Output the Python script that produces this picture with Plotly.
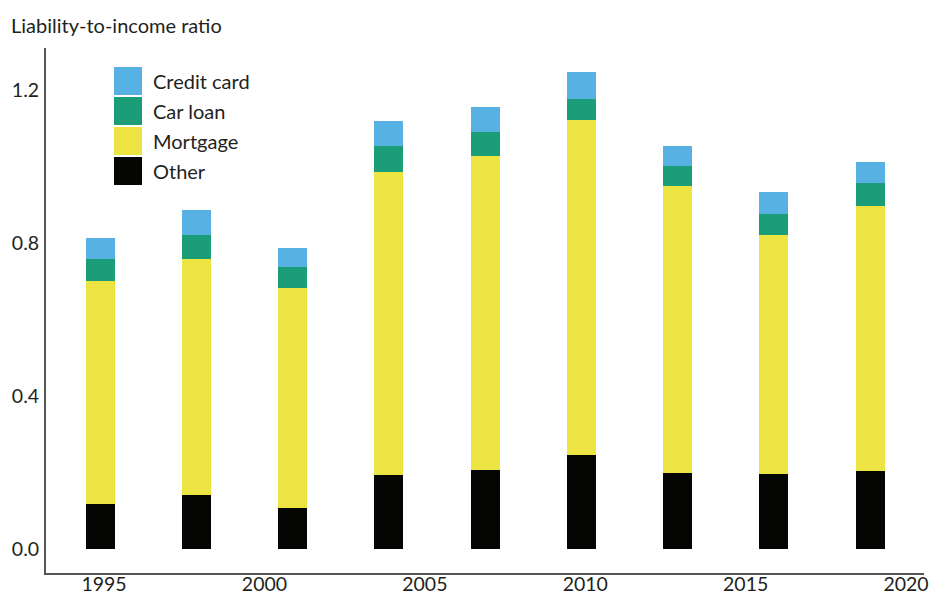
import plotly.graph_objects as go

years = [1995, 1998, 2001, 2004, 2007, 2010, 2013, 2016, 2019]
other = [0.118, 0.141, 0.107, 0.193, 0.207, 0.246, 0.199, 0.196, 0.204]
mortgage = [0.583, 0.617, 0.575, 0.793, 0.820, 0.876, 0.750, 0.625, 0.693]
car_loan = [0.057, 0.063, 0.055, 0.068, 0.063, 0.054, 0.052, 0.055, 0.060]
credit_card = [0.055, 0.065, 0.050, 0.065, 0.066, 0.071, 0.053, 0.057, 0.055]

series_names = ["Credit card", "Car loan", "Mortgage", "Other"]
series_colors = ["#58b1e3", "#1b9e77", "#ece442", "#050503"]

y_ticks = [0.0, 0.4, 0.8, 1.2]
x_ticks = [1995, 2000, 2005, 2010, 2015, 2020]

FONT = "Lato, 'Open Sans', sans-serif"
TXT = "#231f20"

fig = go.Figure()
stack = [("Other", other), ("Mortgage", mortgage), ("Car loan", car_loan), ("Credit card", credit_card)]
for name, vals in stack:
    fig.add_trace(go.Bar(
        x=years, y=vals, name=name,
        marker=dict(color=series_colors[series_names.index(name)], line=dict(width=0)),
        width=0.9, offset=-0.57,
        showlegend=False,
    ))

# Custom legend: large square swatches with labels
for i, (name, col) in enumerate(zip(series_names, series_colors)):
    y0 = 67 + 30 * i
    fig.add_shape(type="rect", xref="paper", yref="paper",
                  x0=(114 - 46) / 878, x1=(142 - 46) / 878,
                  y0=1 - (y0 + 28 - 48) / 525, y1=1 - (y0 - 48) / 525,
                  fillcolor=col, line=dict(width=0), layer="above")
    fig.add_annotation(text=name, xref="paper", yref="paper",
                       x=(151 - 46) / 878, y=1 - (y0 + 14 - 48) / 525,
                       xanchor="left", yanchor="middle", showarrow=False,
                       font=dict(family=FONT, size=20, color=TXT))

fig.add_annotation(text="Liability-to-income ratio", xref="paper", yref="paper",
                   x=(9 - 46) / 878, y=1 + (48 - 25) / 525,
                   xanchor="left", yanchor="middle", showarrow=False,
                   font=dict(family=FONT, size=20, color=TXT))

fig.update_layout(
    barmode="stack",
    width=930, height=594,
    margin=dict(l=46, r=6, t=48, b=21),
    plot_bgcolor="white", paper_bgcolor="white",
    font=dict(family=FONT, size=19.5, color=TXT),
    xaxis=dict(range=[1993.19, 2020.56], tickvals=x_ticks, ticktext=[str(v) for v in x_ticks],
               showgrid=False, zeroline=False, showline=True, linecolor="#555555", linewidth=2,
               ticks="", ticklen=0, automargin=False, tickfont=dict(size=19.5),
               ticklabelstandoff=-7),
    yaxis=dict(range=[-0.063, 1.31], tickvals=y_ticks, ticktext=[f"{v:.1f}" for v in y_ticks],
               showgrid=False, zeroline=False, showline=True, linecolor="#555555", linewidth=2,
               ticks="", ticklen=0, automargin=False, tickfont=dict(size=19.5),
               ticklabelstandoff=1),
)

fig.write_html("out.html", config={"displayModeBar": False},
               post_script="document.body.style.margin='0';document.body.style.overflow='hidden';")
